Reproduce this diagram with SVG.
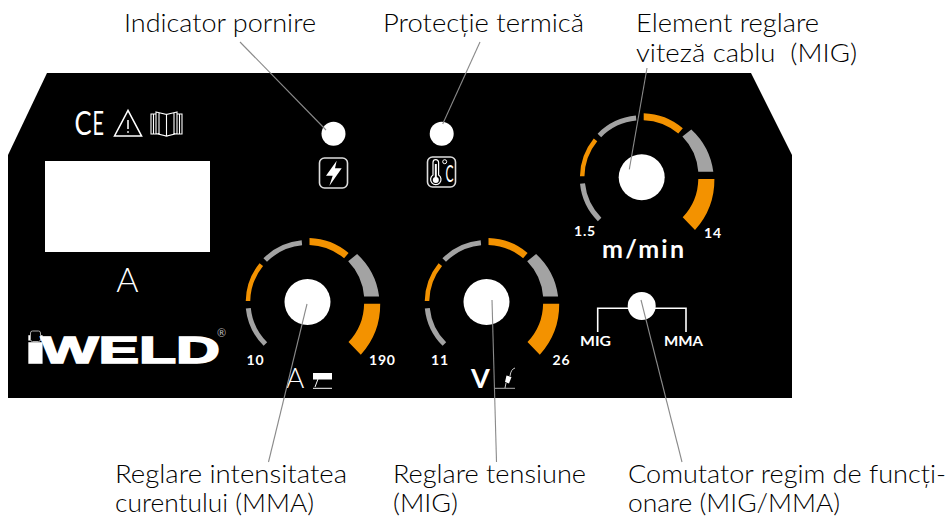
<svg xmlns="http://www.w3.org/2000/svg" xmlns:xlink="http://www.w3.org/1999/xlink" width="950" height="517" viewBox="0 0 950 517">
<style>
.lbl{font-family:"Lato","Noto Sans",sans-serif;font-size:25px;font-weight:300;fill:#000}
.val{font-family:"Lato","Noto Sans",sans-serif;font-size:14px;font-weight:700;fill:#fff;letter-spacing:.8px}
.big{font-family:"Lato","Noto Sans",sans-serif;fill:#fff}
.logo{font-family:"Liberation Sans",sans-serif;font-weight:700;fill:#fff;stroke:#fff;stroke-width:1.5px}
.lead{stroke:#8a8a8a;stroke-width:1.1;fill:none}
.wl{stroke:#fff;fill:none}
</style>
<defs>
<g id="dial">
<path d="M-59.2,6.2A59.5,59.5 0 0 0 -42.1,42.1" fill="none" stroke="#a3a3a3" stroke-width="5"/>
<path d="M-59.5,-1A59.5,59.5 0 0 1 -46.2,-37.4" fill="none" stroke="#f39200" stroke-width="4.5"/>
<path d="M-42.3,-41.9A59.5,59.5 0 0 1 -5.6,-59.2" fill="none" stroke="#a3a3a3" stroke-width="5"/>
<path d="M2,-64A64,64 0 0 1 41.1,-49L36.6,-43.7A57,57 0 0 0 2,-57Z" fill="#f39200"/>
<path d="M49.6,-47.9A70,70 0 0 1 71.6,-5.6L56.6,-5.6A57,57 0 0 0 40.7,-40.7Z" fill="#a3a3a3"/>
<path d="M72.7,1.7A75,75 0 0 1 53.3,52.7L41,40A57,57 0 0 0 56.6,1.7Z" fill="#f39200"/>
<circle r="23" fill="#fff"/>
</g>
</defs>
<rect width="950" height="517" fill="#fff"/>
<g id="panel">
<path d="M47,73H751L792,155V398H8V155Z" fill="#000"/>
</g>
<g id="marks">
<text transform="translate(74.500,135) scale(.8,1)" class="big" font-size="32">C</text>
<text transform="translate(92.500,135) scale(.62,1)" class="big" font-size="32">E</text>
<path d="M114.500,136L128,110.500L141.500,136Z" class="wl" stroke-width="1.600"/>
<path d="M128,120V129" stroke="#ddd" stroke-width="1.800"/>
<circle cx="128" cy="132" r="1" fill="#ddd"/>
<path d="M151,114H156V134H151ZM156,112L166.500,114.500V136L156,133.500ZM177,112L166.500,114.500V136L177,133.500ZM177,114H182V134H177ZM153.500,114V134M179.500,114V134M159,113V134M174,113V134" class="wl" stroke-width="1.100"/>
</g>
<g id="display">
<rect x="45" y="161" width="165" height="91" fill="#fff"/>
<text x="127.500" y="292" class="big" font-size="34" font-weight="300" text-anchor="middle">A</text>
</g>
<g id="logo">
<text x="24.500" y="363" class="logo" font-size="36" textLength="22" lengthAdjust="spacingAndGlyphs">i</text>
<rect x="30.500" y="331" width="10" height="10.500" rx="2" fill="#000" stroke="#aaa" stroke-width="1"/>
<text x="41" y="363" class="logo" font-size="36" textLength="179" lengthAdjust="spacingAndGlyphs">WELD</text>
<text x="217" y="337" class="big" font-size="11" style="fill:#bbb">®</text>
</g>
<g id="led-power">
<circle cx="333.500" cy="133.700" r="12" fill="#fff"/>
<rect x="319.500" y="158" width="28" height="30" rx="5" fill="none" stroke="#ddd" stroke-width="1.600"/>
<path d="M336.700,160.700L326,175.700H332.700L329.300,186L341.700,168.300H335Z" fill="#fff"/>
</g>
<g id="led-thermal">
<circle cx="441.700" cy="133.700" r="12" fill="#fff"/>
<rect x="427.500" y="157" width="28" height="30" rx="5" fill="none" stroke="#ddd" stroke-width="1.600"/>
<path d="M433,175V162.500a2.800,2.800 0 0 1 5.600,0V175a5.200,5.200 0 1 1 -5.600,0Z" fill="none" stroke="#fff" stroke-width="1.200"/>
<path d="M435.800,164V178" stroke="#fff" stroke-width="2"/>
<circle cx="435.800" cy="180" r="3" fill="#fff"/>
<circle cx="444.700" cy="161.700" r="2" fill="none" stroke="#fff" stroke-width="1"/>
<text transform="translate(445.500,182) scale(.5,1)" class="big" font-size="24">C</text>
</g>
<g id="dial-wire">
<use xlink:href="#dial" href="#dial" transform="translate(641.700,177.300)"/>
<text x="574" y="236" class="val">1.5</text>
<text x="704" y="238" class="val">14</text>
<text x="602" y="258" class="big" font-size="25" font-weight="700" textLength="82" lengthAdjust="spacing">m/min</text>
</g>
<g id="dial-current">
<use xlink:href="#dial" href="#dial" transform="translate(307.500,302)"/>
<text x="246.500" y="365" class="val">10</text>
<text x="369" y="365" class="val">190</text>
<text x="286" y="388" class="big" font-size="28" font-weight="300">A</text>
<rect x="313" y="373" width="19" height="6.500" fill="#fff"/>
<path d="M313,388.300H332M318,379L315,387" class="wl" stroke-width="1"/>
</g>
<g id="dial-voltage">
<use xlink:href="#dial" href="#dial" transform="translate(486.500,302)"/>
<text x="431" y="365" class="val">11</text>
<text x="552.500" y="365" class="val">26</text>
<text x="471" y="388" class="big" font-size="27" font-weight="700">V</text>
<path d="M494,388.300H515" stroke="#aaa" stroke-width="1"/>
<path d="M506.500,375.500L511.500,377L509,383.500L505,382Z" fill="#fff"/>
<path d="M510,376Q511,369 515,368M506,383L505,388" class="wl" stroke-width=".8"/>
</g>
<g id="switch">
<path d="M597.700,332V308.300H686V332" class="wl" stroke-width="1.600"/>
<circle cx="641.700" cy="306" r="14" fill="#fff"/>
<text x="580" y="346" class="big" font-size="14" font-weight="700" textLength="31" lengthAdjust="spacingAndGlyphs">MIG</text>
<text x="664" y="346" class="big" font-size="14" font-weight="700" textLength="39" lengthAdjust="spacingAndGlyphs">MMA</text>
</g>
<g id="connectors">
<path class="lead" d="M240,42L326,130"/>
<path class="lead" d="M480,42L442.700,124"/>
<path class="lead" d="M647,68L629.300,169.300"/>
<path class="lead" d="M307,304L268.500,462"/>
<path class="lead" d="M492,300L496.500,462"/>
<path class="lead" d="M641,300L682,462"/>
</g>
<g id="labels">
<text class="lbl" x="124" y="32" textLength="192" lengthAdjust="spacingAndGlyphs">Indicator pornire</text>
<text class="lbl" x="383" y="32" textLength="201" lengthAdjust="spacingAndGlyphs">Protecție termică</text>
<text class="lbl" x="636" y="32" textLength="183" lengthAdjust="spacingAndGlyphs">Element reglare</text>
<text class="lbl" x="636" y="62" textLength="221" lengthAdjust="spacingAndGlyphs" xml:space="preserve">viteză cablu  (MIG)</text>
<text class="lbl" x="115" y="483" textLength="232" lengthAdjust="spacingAndGlyphs">Reglare intensitatea</text>
<text class="lbl" x="115" y="512" textLength="199" lengthAdjust="spacingAndGlyphs">curentului (MMA)</text>
<text class="lbl" x="393" y="483" textLength="193" lengthAdjust="spacingAndGlyphs">Reglare tensiune</text>
<text class="lbl" x="393" y="512" textLength="65" lengthAdjust="spacingAndGlyphs">(MIG)</text>
<text class="lbl" x="628" y="483" textLength="318" lengthAdjust="spacingAndGlyphs">Comutator regim de funcți-</text>
<text class="lbl" x="628" y="512" textLength="212" lengthAdjust="spacingAndGlyphs">onare (MIG/MMA)</text>
</g>
</svg>
